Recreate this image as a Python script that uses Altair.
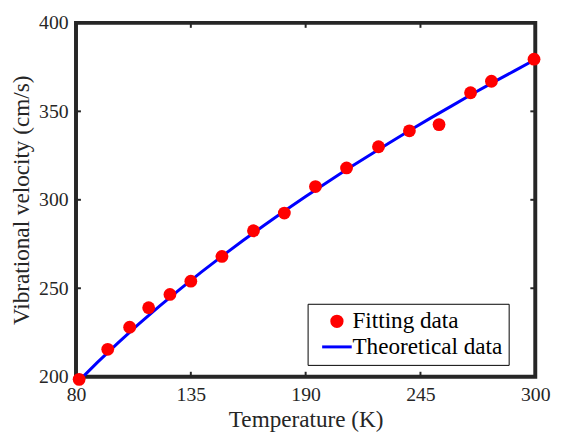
import altair as alt
import pandas as pd

# Fitting data (red points)
fit_T = [81.5, 95.2, 105.7, 114.8, 125.0, 135.0, 149.9, 165.0, 179.8, 194.7,
         209.6, 224.9, 239.7, 253.9, 269.0, 279.0, 299.4]
fit_V = [198.5, 215.5, 228.0, 239.0, 246.5, 254.0, 268.0, 282.5, 292.5, 307.5,
         318.0, 330.0, 339.0, 342.5, 360.5, 367.0, 379.5]

# Theoretical data (blue curve)
theo_T = [81.5, 90, 100, 110, 120, 130, 140, 150, 160, 170, 180, 190, 200,
          210, 220, 230, 240, 250, 260, 270, 280, 290, 300]
theo_V = [197.8, 207.8, 219.0, 229.7, 239.9, 249.7, 259.1, 268.2, 277.0, 285.5,
          293.8, 301.9, 309.7, 317.4, 324.8, 332.1, 339.3, 346.3, 353.1, 359.9,
          366.5, 372.9, 379.3]

x_ticks = [80, 135, 190, 245, 300]
y_ticks = [200, 250, 300, 350, 400]
series = ["Fitting data", "Theoretical data"]
colors = ["#ff0000", "#0000ff"]

FONT = "Times New Roman"
INK = "#262626"
W, H = 466, 359

fit_df = pd.DataFrame({"T": fit_T, "V": fit_V, "series": series[0]})
theo_df = pd.DataFrame({"T": theo_T, "V": theo_V, "series": series[1]})
xt_df = pd.DataFrame({"T": x_ticks})
yt_df = pd.DataFrame({"V": y_ticks})

xs = alt.Scale(domain=[80, 300], nice=False, zero=False)
ys = alt.Scale(domain=[200, 400], nice=False, zero=False)
cs = alt.Scale(domain=series, range=colors)

is_line = "datum.value == 'Theoretical data'"
legend = alt.Legend(
    title=None,
    orient="none",
    legendX=235,
    legendY=285,
    labelFont=FONT,
    labelFontSize=23.5,
    labelColor="#000000",
    labelExpr="datum.label + '\u00a0'",
    symbolType=alt.ExprRef(expr=f"{is_line} ? 'stroke' : 'circle'"),
    symbolSize=alt.ExprRef(expr=f"{is_line} ? 900 : 110"),
    symbolFillColor=alt.ExprRef(expr=f"{is_line} ? 'transparent' : '#ff0000'"),
    symbolStrokeColor=alt.ExprRef(expr=f"{is_line} ? '#0000ff' : '#ff0000'"),
    symbolStrokeWidth=3,
    symbolOpacity=1,
    symbolOffset=12,
    labelOffset=4,
    padding=6,
    rowPadding=1,
    strokeColor="#000000",
    fillColor="#ffffff",
)

x_axis = alt.Axis(
    values=x_ticks, title="Temperature (K)", titleFont=FONT, titleFontSize=23.5,
    titleFontWeight="normal", titleColor=INK, titlePadding=4,
    labelFont=FONT, labelFontSize=20, labelColor=INK, labelPadding=8,
    labelFlush=False, tickSize=0, domain=False, grid=False,
)
y_axis = alt.Axis(
    values=y_ticks, title="Vibrational velocity (cm/s)", titleFont=FONT,
    titleFontSize=23.5, titleFontWeight="normal", titleColor=INK, titlePadding=5,
    labelFont=FONT, labelFontSize=20, labelColor=INK, labelPadding=8,
    labelFlush=False, tickSize=0, domain=False, grid=False,
)

line = alt.Chart(theo_df).mark_line(strokeWidth=3).encode(
    x=alt.X("T:Q", scale=xs, axis=x_axis),
    y=alt.Y("V:Q", scale=ys, axis=y_axis),
    color=alt.Color("series:N", scale=cs, legend=legend),
)
points = alt.Chart(fit_df).mark_point(filled=True, size=169, opacity=1).encode(
    x=alt.X("T:Q", scale=xs, axis=x_axis),
    y=alt.Y("V:Q", scale=ys, axis=y_axis),
    color=alt.Color("series:N", scale=cs, legend=legend),
)

tick_style = dict(color=INK, strokeWidth=2)
xt_bot = alt.Chart(xt_df).mark_rule(**tick_style).encode(
    x=alt.X("T:Q", scale=xs, axis=x_axis), y=alt.value(H), y2=alt.value(H - 5))
xt_top = alt.Chart(xt_df).mark_rule(**tick_style).encode(
    x=alt.X("T:Q", scale=xs, axis=x_axis), y=alt.value(0), y2=alt.value(5))
yt_left = alt.Chart(yt_df).mark_rule(**tick_style).encode(
    y=alt.Y("V:Q", scale=ys, axis=y_axis), x=alt.value(0), x2=alt.value(5))
yt_right = alt.Chart(yt_df).mark_rule(**tick_style).encode(
    y=alt.Y("V:Q", scale=ys, axis=y_axis), x=alt.value(W), x2=alt.value(W - 5))

chart = alt.layer(line, xt_bot, xt_top, yt_left, yt_right, points).properties(
    width=W, height=H,
    autosize="none",
    padding={"left": 69, "top": 12, "right": 19, "bottom": 54},
    view=alt.ViewBackground(stroke=INK, strokeWidth=4, fill="#ffffff"),
)

chart.save("out.html", embed_options={"renderer": "svg", "actions": False})
